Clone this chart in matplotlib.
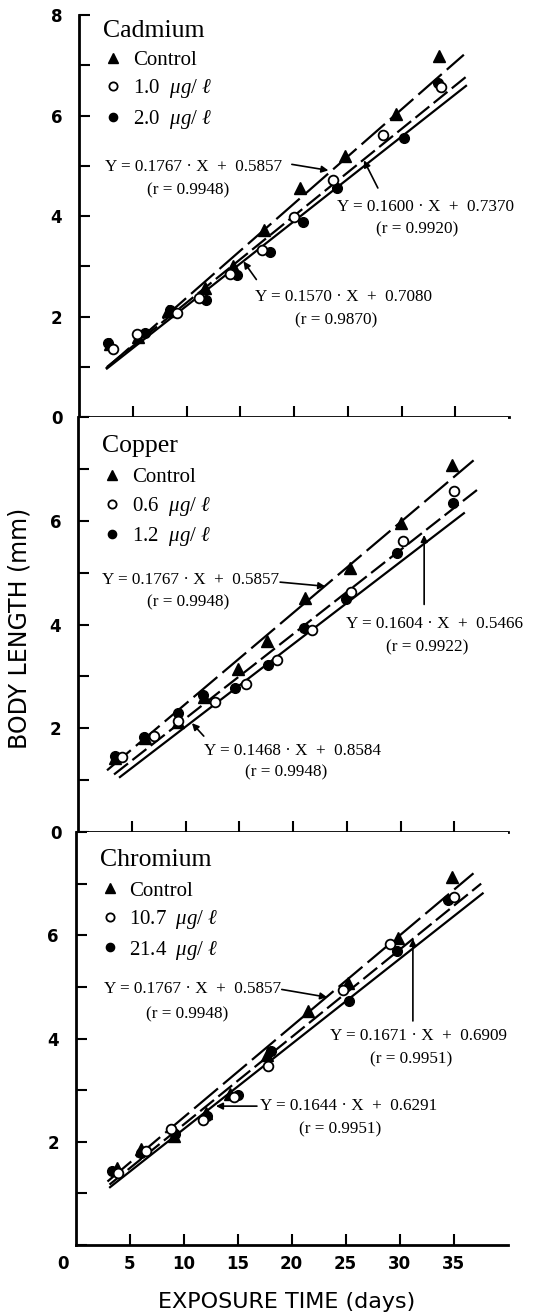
import matplotlib
matplotlib.use('Agg')
import matplotlib.pyplot as plt

# ---- values ----
metals = ['Cadmium', 'Copper', 'Chromium']
cd_labels = ['Control', '1.0', '2.0']
cu_labels = ['Control', '0.6', '1.2']
cr_labels = ['Control', '10.7', '21.4']

# Cadmium
cd_ctrl_x = [2.9, 5.5, 8.3, 11.7, 14.3, 17.2, 20.6, 24.7, 29.5, 33.5]
cd_ctrl_y = [1.46, 1.59, 2.12, 2.58, 3.00, 3.73, 4.56, 5.19, 6.03, 7.19]
cd_lo_x = [3.2, 5.4, 9.1, 11.2, 14.0, 17.0, 20.0, 23.6, 28.3, 33.7]
cd_lo_y = [1.36, 1.66, 2.07, 2.38, 2.84, 3.33, 3.99, 4.71, 5.61, 6.57]
cd_hi_x = [2.7, 6.1, 8.5, 11.8, 14.7, 17.8, 20.8, 24.0, 30.2, 33.4]
cd_hi_y = [1.47, 1.68, 2.13, 2.33, 2.83, 3.29, 3.88, 4.56, 5.56, 6.65]

# Copper
cu_ctrl_x = [3.4, 6.2, 9.3, 11.7, 14.9, 17.6, 21.1, 25.3, 30.0, 34.8]
cu_ctrl_y = [1.43, 1.81, 2.13, 2.61, 3.15, 3.69, 4.52, 5.09, 5.96, 7.08]
cu_lo_x = [4.1, 7.1, 9.3, 12.7, 15.6, 18.5, 21.8, 25.4, 30.2, 35.0]
cu_lo_y = [1.44, 1.86, 2.15, 2.50, 2.85, 3.32, 3.89, 4.63, 5.61, 6.58]
cu_hi_x = [3.4, 6.1, 9.3, 11.6, 14.6, 17.7, 21.0, 24.9, 29.7, 34.9]
cu_hi_y = [1.46, 1.83, 2.29, 2.64, 2.77, 3.23, 3.94, 4.50, 5.39, 6.35]

# Chromium
cr_ctrl_x = [3.8, 6.1, 9.1, 12.1, 14.3, 17.7, 21.5, 25.2, 29.9, 34.9]
cr_ctrl_y = [1.49, 1.86, 2.12, 2.56, 2.92, 3.68, 4.53, 5.08, 5.95, 7.13]
cr_lo_x = [3.9, 6.5, 8.8, 11.8, 14.7, 17.8, 24.8, 29.1, 35.0]
cr_lo_y = [1.39, 1.83, 2.24, 2.43, 2.87, 3.47, 4.93, 5.83, 6.74]
cr_hi_x = [3.4, 6.1, 9.2, 12.2, 15.0, 18.1, 25.3, 29.8, 34.5]
cr_hi_y = [1.44, 1.78, 2.15, 2.50, 2.91, 3.75, 4.72, 5.69, 6.68]

# regression lines as drawn (start / end points)
cd_fit_x = [[2.5, 35.8], [2.6, 36.0], [2.6, 36.0]]
cd_fit_y = [[0.97, 7.21], [1.00, 6.77], [0.97, 6.59]]
cu_fit_x = [[2.7, 36.8], [3.35, 37.5], [3.9, 35.9]]
cu_fit_y = [[1.19, 7.17], [1.11, 6.66], [1.06, 6.15]]
cr_fit_x = [[2.96, 36.85], [3.15, 37.56], [3.2, 37.7]]
cr_fit_y = [[1.23, 7.20], [1.17, 7.00], [1.12, 6.81]]

cd_eq = ['Y = 0.1767 · X  +  0.5857', 'Y = 0.1600 · X  +  0.7370', 'Y = 0.1570 · X  +  0.7080']
cd_r = ['(r = 0.9948)', '(r = 0.9920)', '(r = 0.9870)']
cu_eq = ['Y = 0.1767 · X  +  0.5857', 'Y = 0.1604 · X  +  0.5466', 'Y = 0.1468 · X  +  0.8584']
cu_r = ['(r = 0.9948)', '(r = 0.9922)', '(r = 0.9948)']
cr_eq = ['Y = 0.1767 · X  +  0.5857', 'Y = 0.1671 · X  +  0.6909', 'Y = 0.1644 · X  +  0.6291']
cr_r = ['(r = 0.9948)', '(r = 0.9951)', '(r = 0.9951)']

# ---- layout ----
plt.rcParams['mathtext.fontset'] = 'custom'
plt.rcParams['mathtext.rm'] = 'Liberation Serif'
plt.rcParams['mathtext.it'] = 'Liberation Serif:italic'

SERIF = ['Liberation Serif', 'DejaVu Serif']
SANS = 'DejaVu Sans'

fig = plt.figure(figsize=(5.4, 13.15), dpi=100)
W, H = 540.0, 1315.0
ax_cd = fig.add_axes([79 / W, 1 - 417.3 / H, 430 / W, 402.3 / H])
ax_cu = fig.add_axes([78 / W, 1 - 832 / H, 430 / W, 414.7 / H])
ax_cr = fig.add_axes([75.5 / W, 1 - 1245 / H, 432 / W, 413 / H])

# label positions: eq left/y, r centre/y, arrow tail, arrow tip
cd_pos = [((2.4, 4.98), (10.15, 4.52), (19.8, 5.03), (23.2, 4.91)),
          ((24.0, 4.19), (31.5, 3.73), (27.8, 4.56), (26.5, 5.11)),
          ((16.4, 2.39), (23.9, 1.92), (16.5, 2.74), (15.3, 3.10))]
cu_pos = [((2.2, 4.87), (10.2, 4.42), (18.8, 4.82), (23.0, 4.74)),
          ((24.9, 4.01), (32.5, 3.56), (32.2, 4.39), (32.2, 5.73)),
          ((11.7, 1.56), (19.35, 1.15), (11.7, 1.85), (10.6, 2.10))]
cr_pos = [((2.66, 4.96), (10.36, 4.47), (19.1, 4.95), (23.3, 4.80)),
          ((23.6, 4.05), (31.1, 3.60), (31.24, 4.34), (31.24, 5.93)),
          ((17.1, 2.69), (24.5, 2.24), (16.8, 2.69), (13.0, 2.69))]

line_styles = [(0, (14, 3)), (0, (8, 2.5)), '-']


def style_ticklabels(ax):
    for lab in ax.get_xticklabels() + ax.get_yticklabels():
        lab.set_family(SANS)
        lab.set_fontweight('bold')
        lab.set_fontsize(12)


def draw_panel(ax, title, labels, xs, ys, fit_x, fit_y, eqs, rs, pos, title_y, leg_y):
    for k in range(3):
        ax.plot(fit_x[k], fit_y[k], color='black', lw=1.6, ls=line_styles[k], zorder=2)
    h1, = ax.plot(xs[0], ys[0], '^', color='black', ms=8, ls='none', zorder=3)
    h2, = ax.plot(xs[1], ys[1], 'o', mfc='white', mec='black', mew=1.3, ms=7, ls='none', zorder=4)
    h3, = ax.plot(xs[2], ys[2], 'o', color='black', ms=7, ls='none', zorder=3)
    names = [labels[0]] + [lab + r'  $\mu g/\ \ell$' for lab in labels[1:]]
    ax.legend([h1, h2, h3], names, loc='upper left', frameon=False,
              bbox_to_anchor=(0.055, leg_y), borderpad=0, borderaxespad=0,
              handlelength=1.0, handletextpad=0.45, labelspacing=0.36,
              markerscale=0.85, prop={'family': SERIF, 'size': 15})
    ax.text(0.056, title_y, title, transform=ax.transAxes, family=SERIF,
            fontsize=18.5, va='center', ha='left')
    for k in range(3):
        (ex, ey), (rx, ry), tail, tip = pos[k]
        ax.text(ex, ey, eqs[k], family=SERIF, fontsize=12.3, ha='left', va='center')
        ax.text(rx, ry, rs[k], family=SERIF, fontsize=12.3, ha='center', va='center')
        ax.annotate('', xy=tip, xytext=tail,
                    arrowprops=dict(arrowstyle='-|>', color='black', lw=1.2,
                                    mutation_scale=10, shrinkA=0, shrinkB=0))
    ax.set_xlim(0, 40)
    ax.set_ylim(0, 8)
    ax.set_xticks([5, 10, 15, 20, 25, 30, 35])
    ax.set_yticks([0, 2, 4, 6, 8])
    ax.set_yticks([1, 3, 5, 7], minor=True)
    ax.tick_params(which='both', direction='in', length=8, width=1.5)
    ax.tick_params(axis='y', pad=12)
    ax.tick_params(axis='x', pad=7)
    for s in ['top', 'right']:
        ax.spines[s].set_visible(False)
    for s in ['left', 'bottom']:
        ax.spines[s].set_linewidth(2)


draw_panel(ax_cd, metals[0], cd_labels, [cd_ctrl_x, cd_lo_x, cd_hi_x],
           [cd_ctrl_y, cd_lo_y, cd_hi_y], cd_fit_x, cd_fit_y, cd_eq, cd_r, cd_pos, 0.96, 0.912)
draw_panel(ax_cu, metals[1], cu_labels, [cu_ctrl_x, cu_lo_x, cu_hi_x],
           [cu_ctrl_y, cu_lo_y, cu_hi_y], cu_fit_x, cu_fit_y, cu_eq, cu_r, cu_pos, 0.93, 0.878)
draw_panel(ax_cr, metals[2], cr_labels, [cr_ctrl_x, cr_lo_x, cr_hi_x],
           [cr_ctrl_y, cr_lo_y, cr_hi_y], cr_fit_x, cr_fit_y, cr_eq, cr_r, cr_pos, 0.932, 0.881)

ax_cd.set_yticklabels(['0', '2', '4', '6', '8'])
ax_cd.set_xticklabels([])
ax_cu.set_yticklabels(['0', '2', '4', '6', ''])
ax_cu.set_xticklabels([])
ax_cr.set_yticklabels(['', '2', '4', '6', ''])
ax_cr.set_xticklabels(['5', '10', '15', '20', '25', '30', '35'])
for ax in [ax_cd, ax_cu, ax_cr]:
    style_ticklabels(ax)
# the shared "0" at the corner
ax_cr.annotate('0', xy=(-1.2, 0), xycoords=('data', 'axes fraction'),
               xytext=(0, -7), textcoords='offset points', ha='center', va='top',
               family=SANS, fontweight='bold', fontsize=12, annotation_clip=False)

fig.text(20 / W, 1 - 628 / H, 'BODY LENGTH (mm)', rotation=90, ha='center', va='center',
         family=SANS, fontsize=17)
fig.text(287 / W, 1 - 1302 / H, 'EXPOSURE TIME (days)', ha='center', va='center',
         family=SANS, fontsize=16)

fig.savefig('out.png', dpi=100)
